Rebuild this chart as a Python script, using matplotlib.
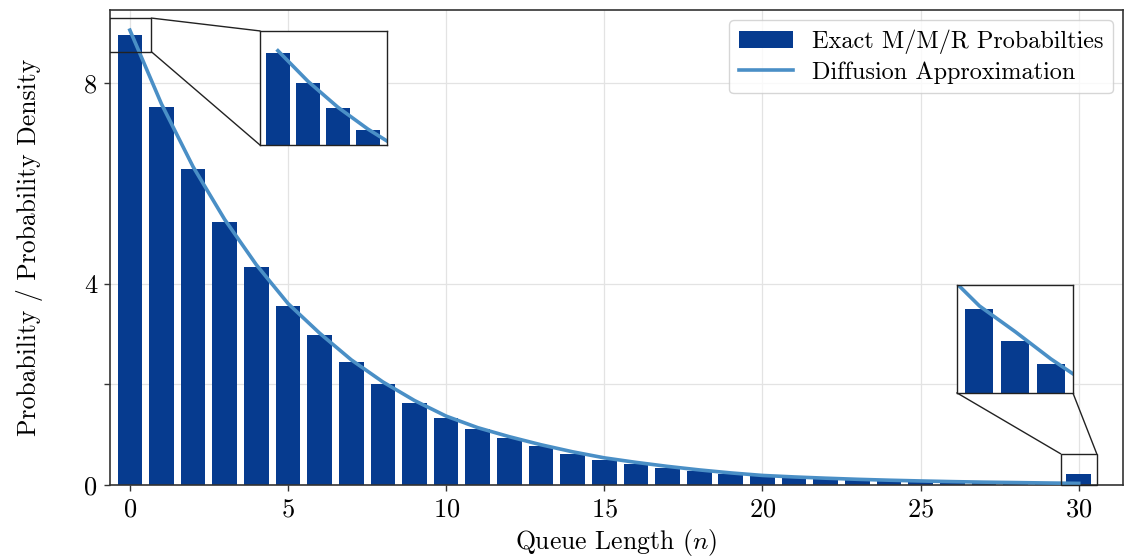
import numpy as np
import matplotlib
matplotlib.use("Agg")
import matplotlib.pyplot as plt
from matplotlib.patches import Rectangle, ConnectionPatch

plt.rcParams['font.family'] = 'serif'
plt.rcParams['font.serif'] = ['cmr10']
plt.rcParams['mathtext.fontset'] = 'cm'
plt.rcParams['axes.formatter.use_mathtext'] = True

# queue lengths and values
n = np.arange(31)
exact = [8.96, 7.52, 6.29, 5.23, 4.33, 3.56, 2.99, 2.45, 2.01, 1.63,
         1.33, 1.11, 0.94, 0.77, 0.62, 0.50, 0.41, 0.33, 0.27, 0.22,
         0.17, 0.14, 0.117, 0.098, 0.082, 0.070, 0.061, 0.055, 0.045, 0.038,
         0.22]
diffusion = [9.05, 7.58, 6.33, 5.28, 4.38, 3.61, 3.02, 2.49, 2.05, 1.68,
             1.37, 1.14, 0.96, 0.80, 0.66, 0.54, 0.45, 0.37, 0.30, 0.24,
             0.19, 0.16, 0.135, 0.113, 0.095, 0.080, 0.067, 0.056, 0.048, 0.0395,
             0.032]
xticks = [0, 5, 10, 15, 20, 25, 30]
yticks = [0, 2, 4, 8]
ytick_labels = ['0', '', '4', '8']

bar_color = '#063b8f'
line_color = '#4a8fc6'

fig = plt.figure(figsize=(11.37, 5.57), dpi=100)
ax = fig.add_axes([0.0967, 0.1293, 0.891, 0.8527])

bars = ax.bar(n, exact, width=0.78, color=bar_color, zorder=2, label='Exact M/M/R Probabilties')
line, = ax.plot(n, diffusion, color=line_color, lw=2.6, zorder=3, label='Diffusion Approximation')

ax.set_xlim(-0.63, 31.4)
ax.set_ylim(0, 9.45)
ax.set_xticks(xticks)
ax.set_yticks(yticks)
ax.set_yticklabels(ytick_labels)
ax.grid(True, color='#e3e3e3', lw=0.9, zorder=0)
ax.set_axisbelow(True)
ax.tick_params(labelsize=19, direction='out', length=4, width=1, pad=5,
               colors='#333333', labelcolor='black')
for s in ax.spines.values():
    s.set_color('#333333')
    s.set_linewidth(1.2)

ax.set_xlabel('Queue Length ($n$)', fontsize=18.5, labelpad=4)
ax.set_ylabel('Probability / Probability Density', fontsize=18.5, labelpad=30)

leg = ax.legend([bars, line], ['Exact M/M/R Probabilties', 'Diffusion Approximation'],
                loc='upper right', fontsize=17.5, frameon=True, fancybox=True,
                edgecolor='#cccccc', handlelength=2.2, borderpad=0.4,
                labelspacing=0.3, borderaxespad=0.4)
leg.get_frame().set_linewidth(1.0)

# left inset
ins1 = ax.inset_axes([0.148, 0.716, 0.125, 0.24])
ins1.bar(n, exact, width=0.78, color=bar_color)
ins1.plot(n, diffusion, color=line_color, lw=2.6)
ins1.set_xlim(-0.6, 3.62)
ins1.set_ylim(4.52, 10.0)
ins1.set_xticks([])
ins1.set_yticks([])
for s in ins1.spines.values():
    s.set_color('#222222')
    s.set_linewidth(1.0)
ins1.set_zorder(5)

ax.add_patch(Rectangle((-0.65, 8.62), 1.33, 0.67, fill=False, ec='#222222', lw=1.0, zorder=4))
for xa, xb in [((0.68, 9.29), (0, 1)), ((0.68, 8.62), (0, 0))]:
    cp = ConnectionPatch(xyA=xa, coordsA=ax.transData, xyB=xb, coordsB=ins1.transAxes,
                         color='#222222', lw=1.0, zorder=4)
    ax.add_artist(cp)

# right inset
ins2 = ax.inset_axes([0.836, 0.194, 0.1145, 0.227])
ins2.bar(n, exact, width=0.78, color=bar_color)
ins2.plot(n, diffusion, color=line_color, lw=2.6)
ins2.set_xlim(26.37, 29.61)
ins2.set_ylim(0.029, 0.0625)
ins2.set_xticks([])
ins2.set_yticks([])
for s in ins2.spines.values():
    s.set_color('#222222')
    s.set_linewidth(1.0)
ins2.set_zorder(5)

ax.add_patch(Rectangle((29.43, 0), 1.14, 0.62, fill=False, ec='#222222', lw=1.0, zorder=4, clip_on=False))
for xa, xb in [((29.43, 0.62), (0, 0)), ((30.57, 0.62), (1, 0))]:
    cp = ConnectionPatch(xyA=xa, coordsA=ax.transData, xyB=xb, coordsB=ins2.transAxes,
                         color='#222222', lw=1.0, zorder=4)
    ax.add_artist(cp)

fig.savefig('out.png', dpi=100)
